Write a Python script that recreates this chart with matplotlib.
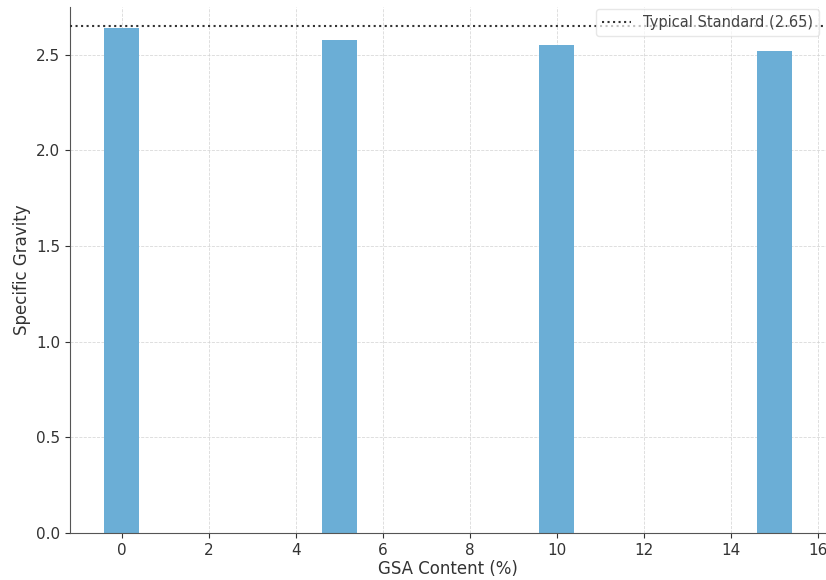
import matplotlib
matplotlib.use('Agg')
import matplotlib.pyplot as plt

gsa_content = [0, 5, 10, 15]
specific_gravity = [2.64, 2.58, 2.55, 2.52]
typical_standard = 2.65

fig = plt.figure(figsize=(8.26, 5.8), dpi=100)
ax = fig.add_axes([70 / 826, 1 - 533 / 580, 1 - 70 / 826, (533 - 7) / 580])

ax.bar(gsa_content, specific_gravity, width=0.8, color='#6baed6', zorder=2)
ax.axhline(typical_standard, color='#333333', linestyle=':', linewidth=1.5,
           label=f'Typical Standard ({typical_standard})', zorder=3)

ax.set_ylim(0, 2.75)
ax.set_xticks(range(0, 17, 2))
ax.set_xlabel('GSA Content (%)', fontsize=12, color='#333333', labelpad=2)
ax.set_ylabel('Specific Gravity', fontsize=12, color='#333333')
ax.tick_params(labelsize=11, colors='#333333')
ax.grid(True, linestyle='--', color='#d0d0d0', linewidth=0.6, alpha=0.8, zorder=0)
for side in ['top', 'right']:
    ax.spines[side].set_visible(False)
for side in ['left', 'bottom']:
    ax.spines[side].set_color('#555555')
leg = ax.legend(loc='upper right', fontsize=10.5, bbox_to_anchor=(1.0, 1.01),
                framealpha=0.7, edgecolor='#dddddd')
for t in leg.get_texts():
    t.set_color('#444444')

fig.savefig('out.png', dpi=100)
